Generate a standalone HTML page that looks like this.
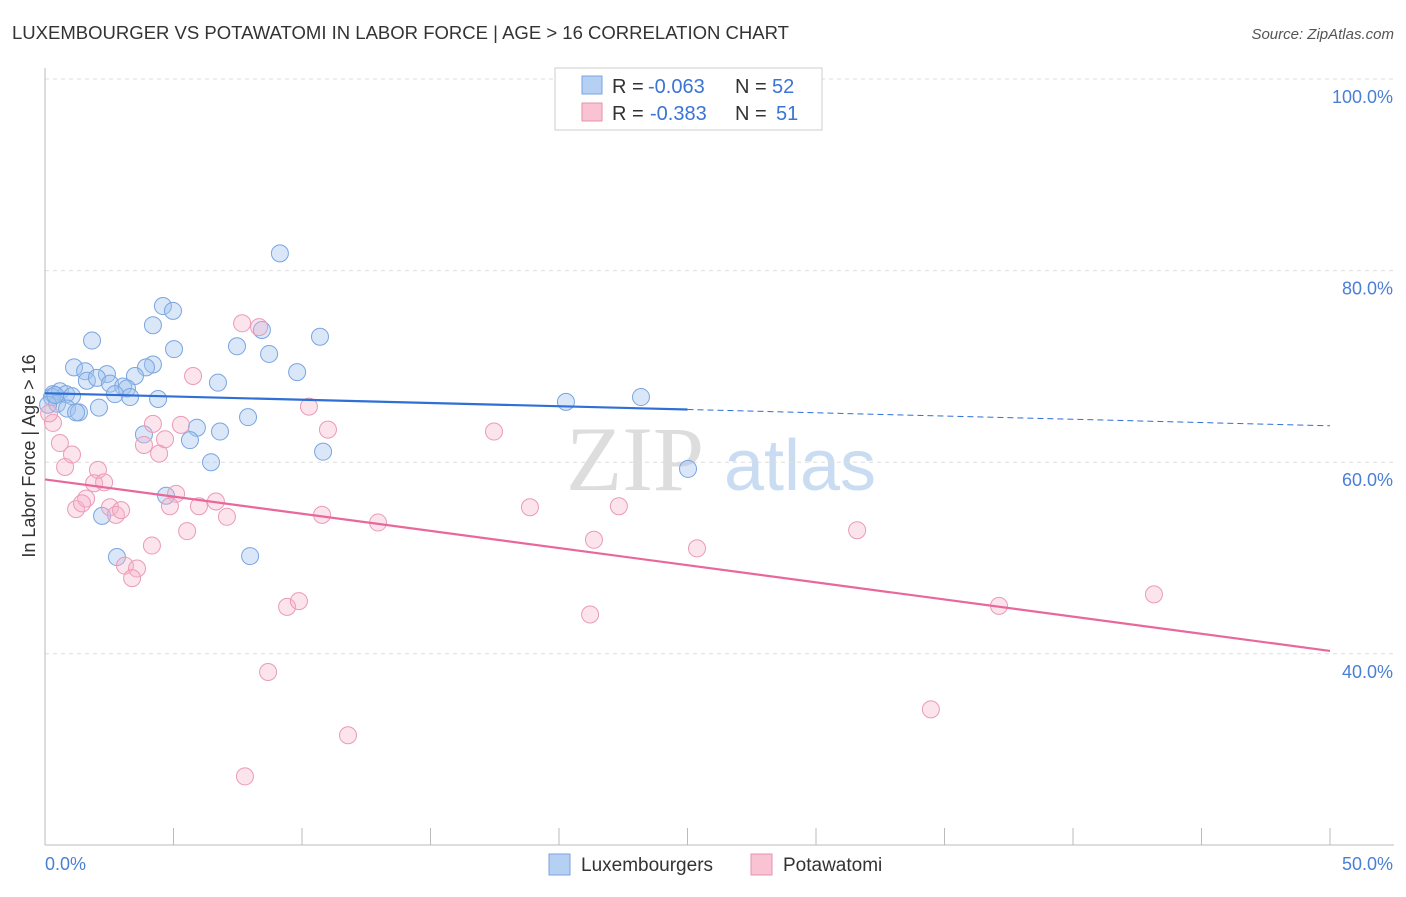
<!DOCTYPE html>
<html><head><meta charset="utf-8"><style>
body{margin:0;background:#fff;font-family:"Liberation Sans",sans-serif;}
</style></head><body>
<svg id="c" width="1406" height="892" xmlns="http://www.w3.org/2000/svg">
<text x="12" y="39" font-size="18" fill="#333" textLength="777" lengthAdjust="spacingAndGlyphs">LUXEMBOURGER VS POTAWATOMI IN LABOR FORCE | AGE &gt; 16 CORRELATION CHART</text>
<text x="1394" y="39" font-size="15" fill="#555" font-style="italic" text-anchor="end">Source: ZipAtlas.com</text>
<text x="35" y="456" font-size="18" fill="#333" text-anchor="middle" transform="rotate(-90 35 456)">In Labor Force | Age &gt; 16</text>
<g><text x="635" y="490" font-size="92" fill="#ddd" font-family="Liberation Serif,serif" text-anchor="middle">ZIP</text><text x="800" y="490" font-size="72" fill="#c9dcf2" text-anchor="middle">atlas</text></g>
<g id="grid"></g><g id="marks"></g>
<g>
<rect x="555" y="68" width="267" height="62" fill="#fff" stroke="#ccc"/>
<rect x="582" y="76" width="20" height="18" fill="#b5d0f3" stroke="#7aa5e0"/>
<rect x="582" y="103" width="20" height="18" fill="#f9c3d3" stroke="#e892ad"/>
<text x="612" y="93" font-size="20" fill="#333">R =</text>
<text x="648" y="93" font-size="20" fill="#3a74d4">-0.063</text>
<text x="735" y="93" font-size="20" fill="#333">N =</text>
<text x="772" y="93" font-size="20" fill="#3a74d4">52</text>
<text x="612" y="120" font-size="20" fill="#333">R =</text>
<text x="650" y="120" font-size="20" fill="#3a74d4">-0.383</text>
<text x="735" y="120" font-size="20" fill="#333">N =</text>
<text x="776" y="120" font-size="20" fill="#3a74d4">51</text>
</g>
<g>
<rect x="549" y="854" width="21" height="21" fill="#b5d0f3" stroke="#7aa5e0"/>
<text x="581" y="871" font-size="19" fill="#333">Luxembourgers</text>
<rect x="751" y="854" width="21" height="21" fill="#f9c3d3" stroke="#e892ad"/>
<text x="783" y="871" font-size="19" fill="#333">Potawatomi</text>
</g>
</svg>
<script>
const yTicks=[100,80,60,40];
const xTickLabels=["0.0%","50.0%"];
const luxX=[9.14,4.59,4.98,4.20,8.44,10.70,1.83,7.47,5.02,8.72,1.13,1.56,4.20,3.93,2.41,3.50,9.81,1.63,2.02,2.53,3.04,3.19,6.73,0.31,0.58,0.82,0.27,1.05,2.72,3.31,4.40,20.27,23.19,0.47,0.86,1.32,2.10,1.21,7.90,3.85,5.91,6.81,5.64,10.82,6.46,25.02,4.71,2.22,2.80,7.98,0.12,0.4];
const luxY=[81.8,76.3,75.8,74.3,73.8,73.1,72.7,72.1,71.8,71.3,69.9,69.5,70.2,69.9,69.2,69.0,69.4,68.5,68.8,68.2,67.9,67.7,68.3,67.1,67.4,67.1,66.8,66.9,67.1,66.8,66.6,66.3,66.8,66.1,65.6,65.2,65.7,65.2,64.7,62.9,63.6,63.2,62.3,61.1,60.0,59.3,56.5,54.4,50.1,50.2,66.0,67.0];
const potX=[0.31,0.16,0.58,0.78,1.05,2.06,1.21,1.60,1.44,1.91,2.30,2.53,2.76,2.96,3.11,3.58,3.39,4.16,3.85,4.20,4.44,4.67,5.10,4.86,5.29,5.53,5.76,5.99,6.65,7.08,7.67,8.33,10.27,11.01,10.78,12.96,9.42,9.88,8.68,11.79,7.78,17.47,18.87,22.33,21.36,21.21,25.37,31.60,37.12,43.15,34.47];
const potY=[64.1,65.1,62.0,59.5,60.8,59.2,55.1,56.2,55.7,57.8,57.9,55.3,54.5,55.0,49.2,48.9,47.9,51.3,61.8,64.0,60.9,62.4,56.7,55.4,63.9,52.8,69.0,55.4,55.9,54.3,74.5,74.1,65.8,63.4,54.5,53.7,44.9,45.5,38.1,31.5,27.2,63.2,55.3,55.4,51.9,44.1,51.0,52.9,45.0,46.2,34.2];
const luxTrend=[67.2,63.8];
const potTrend=[58.2,40.3];
const X=v=>45+v*25.7, Y=v=>79+(100-v)*9.58;
const NS="http://www.w3.org/2000/svg";
function mk(t,a,p){const e=document.createElementNS(NS,t);for(const k in a)e.setAttribute(k,a[k]);p.appendChild(e);return e;}
const g=document.getElementById('grid'),m=document.getElementById('marks');
yTicks.forEach(t=>{
 const l=mk('line',{x1:45,x2:1394,y1:Y(t),y2:Y(t),stroke:'#ddd','stroke-dasharray':'4 4'},g);
 
 
 const tx=mk('text',{x:1393,y:Y(t)+24,'font-size':18,fill:'#4a7fd6','text-anchor':'end'},g);tx.textContent=t.toFixed(1)+'%';
 
 
});
mk('line',{x1:45,x2:45,y1:68,y2:845,stroke:'#bbb'},g);
mk('line',{x1:45,x2:1394,y1:845,y2:845,stroke:'#bbb'},g);
for(let i=0;i<=10;i++){const l=mk('line',{x1:X(i*5),x2:X(i*5),y1:828,y2:845,stroke:'#bbb'},g);
 
 }
[[0,'start',45],[50,'end',1393]].forEach((d,i)=>{const t=mk('text',{x:d[2],y:870,'font-size':18,fill:'#4a7fd6','text-anchor':d[1]},g);t.textContent=xTickLabels[i];
 
 });
luxX.forEach((x,i)=>{const c=mk('circle',{cx:X(x),cy:Y(luxY[i]),r:8.5,fill:'rgba(160,195,238,0.4)',stroke:'#7aa5e0','stroke-width':1},m);
 
 });
potX.forEach((x,i)=>{const c=mk('circle',{cx:X(x),cy:Y(potY[i]),r:8.5,fill:'rgba(245,178,200,0.35)',stroke:'#eb9ab7','stroke-width':1},m);
 
 });
const ly=x=>luxTrend[0]+(luxTrend[1]-luxTrend[0])*x/50;
let l1=mk('line',{x1:X(0),y1:Y(ly(0)),x2:X(25),y2:Y(ly(25)),stroke:'#2f6fd6','stroke-width':2.2},m);


let l2=mk('line',{x1:X(25),y1:Y(ly(25)),x2:X(50),y2:Y(ly(50)),stroke:'#2f6fd6','stroke-width':1,'stroke-dasharray':'6 4'},m);


let l3=mk('line',{x1:X(0),y1:Y(potTrend[0]),x2:X(50),y2:Y(potTrend[1]),stroke:'#e8689a','stroke-width':2.2},m);


</script>
</body></html>
